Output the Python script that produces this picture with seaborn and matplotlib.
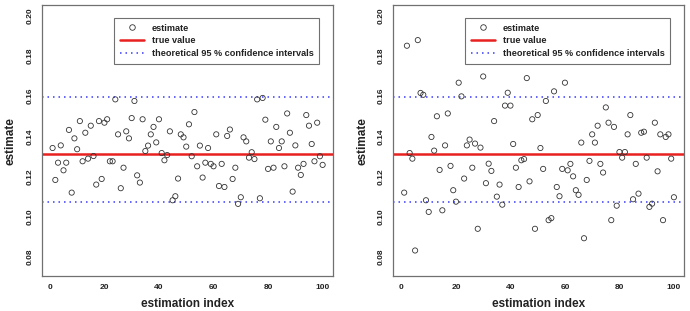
import numpy as np
import pandas as pd
import matplotlib
matplotlib.use("Agg")
import matplotlib.pyplot as plt
import seaborn as sns
from matplotlib.lines import Line2D

# Values
index = list(range(1, 101))

estimate_left = [
    0.1342, 0.1183, 0.1269, 0.1355, 0.1231, 0.1269, 0.1432, 0.1120, 0.1390, 0.1336,
    0.1476, 0.1276, 0.1418, 0.1289, 0.1453, 0.1302, 0.1160, 0.1476, 0.1188, 0.1468,
    0.1485, 0.1276, 0.1276, 0.1584, 0.1410, 0.1142, 0.1244, 0.1425, 0.1390, 0.1491,
    0.1576, 0.1206, 0.1170, 0.1485, 0.1327, 0.1354, 0.1410, 0.1447, 0.1370, 0.1485,
    0.1317, 0.1281, 0.1307, 0.1425, 0.1082, 0.1102, 0.1190, 0.1410, 0.1395, 0.1349,
    0.1460, 0.1301, 0.1521, 0.1251, 0.1354, 0.1195, 0.1269, 0.1342, 0.1263, 0.1251,
    0.1410, 0.1153, 0.1263, 0.1148, 0.1402, 0.1434, 0.1188, 0.1244, 0.1064, 0.1097,
    0.1395, 0.1375, 0.1294, 0.1321, 0.1287, 0.1584, 0.1092, 0.1591, 0.1483, 0.1238,
    0.1375, 0.1244, 0.1447, 0.1342, 0.1375, 0.1251, 0.1514, 0.1418, 0.1125, 0.1355,
    0.1244, 0.1208, 0.1263, 0.1506, 0.1453, 0.1362, 0.1276, 0.1468, 0.1301, 0.1258,
]

estimate_right = [
    0.1120, 0.1851, 0.1317, 0.1289, 0.0832, 0.1879, 0.1616, 0.1607, 0.1082, 0.1024,
    0.1397, 0.1329, 0.1500, 0.1233, 0.1032, 0.1355, 0.1514, 0.1253, 0.1132, 0.1075,
    0.1667, 0.1599, 0.1190, 0.1355, 0.1384, 0.1244, 0.1364, 0.0940, 0.1344, 0.1698,
    0.1167, 0.1264, 0.1228, 0.1476, 0.1100, 0.1160, 0.1060, 0.1553, 0.1617, 0.1553,
    0.1362, 0.1244, 0.1148, 0.1281, 0.1287, 0.1690, 0.1176, 0.1485, 0.0940, 0.1506,
    0.1342, 0.1238, 0.1576, 0.0983, 0.0993, 0.1624, 0.1148, 0.1102, 0.1238, 0.1667,
    0.1231, 0.1263, 0.1201, 0.1132, 0.1109, 0.1369, 0.0893, 0.1183, 0.1278, 0.1410,
    0.1369, 0.1453, 0.1263, 0.1220, 0.1544, 0.1468, 0.0983, 0.1447, 0.1055, 0.1322,
    0.1294, 0.1322, 0.1410, 0.1506, 0.1087, 0.1263, 0.1115, 0.1418, 0.1423, 0.1294,
    0.1049, 0.1065, 0.1468, 0.1226, 0.1410, 0.0983, 0.1397, 0.1410, 0.1289, 0.1097,
]

true_value = 0.1311
ci_low = 0.1075
ci_high = 0.1597

x_ticks = [0, 20, 40, 60, 80, 100]
y_ticks = [0.08, 0.10, 0.12, 0.14, 0.16, 0.18, 0.20]

sns.set_style("white")
plt.rcParams["font.family"] = ["Liberation Sans", "DejaVu Sans"]
plt.rcParams["font.weight"] = "bold"

FRAME = "#707070"
TEXT = "#222222"
RED = "#e8201f"
BLUE = "#3a3aff"
DOTS = (0, (1, 2.6))


def draw_panel(ax, values):
    df = pd.DataFrame({"index": index, "estimate": values})
    sns.scatterplot(
        data=df, x="index", y="estimate", ax=ax,
        marker="o", s=14, facecolor="none", edgecolor="#333333", linewidth=0.6,
        zorder=3,
    )
    ax.axhline(true_value, color=RED, lw=1.8, zorder=2)
    ax.axhline(ci_high, color=BLUE, lw=1.1, ls=DOTS, zorder=2)
    ax.axhline(ci_low, color=BLUE, lw=1.1, ls=DOTS, zorder=2)

    ax.set_xlim(-3.0, 103.8)
    ax.set_ylim(0.0705, 0.2053)
    ax.set_xticks(x_ticks)
    ax.set_yticks(y_ticks)
    ax.set_xticklabels([str(t) for t in x_ticks])
    ax.set_yticklabels([f"{t:.2f}" for t in y_ticks], rotation=90, va="center")
    ax.tick_params(axis="both", length=4, width=0.8, color=FRAME,
                   labelsize=6, labelcolor=TEXT, pad=2)
    for sp in ax.spines.values():
        sp.set_color(FRAME)
        sp.set_linewidth(0.9)

    ax.set_xlabel("estimation index", fontsize=8.5, fontweight="bold",
                  color=TEXT, labelpad=5)
    ax.set_ylabel("estimate", fontsize=8.5, fontweight="bold",
                  color=TEXT, labelpad=7)

    handles = [
        Line2D([], [], marker="o", ls="none", mfc="none", mec="#333333",
               ms=4, mew=0.6),
        Line2D([], [], color=RED, lw=1.8),
        Line2D([], [], color=BLUE, lw=1.1, ls=DOTS),
    ]
    labels = ["estimate", "true value", "theoretical 95 % confidence intervals"]
    leg = ax.legend(handles, labels, loc="upper right",
                    bbox_to_anchor=(0.952, 0.952), fontsize=6.6,
                    frameon=True, fancybox=False, framealpha=1,
                    edgecolor=FRAME, borderpad=0.6, labelspacing=0.42,
                    handlelength=2.6, handletextpad=0.9, borderaxespad=0)
    leg.get_frame().set_linewidth(0.8)
    for t in leg.get_texts():
        t.set_color(TEXT)
        t.set_fontweight("bold")


fig = plt.figure(figsize=(6.9, 3.11), dpi=100)
ax1 = fig.add_axes([0.0604, 0.1125, 0.4222, 0.871])
ax2 = fig.add_axes([0.570, 0.1125, 0.4217, 0.871])

draw_panel(ax1, estimate_left)
draw_panel(ax2, estimate_right)

fig.savefig("out.png", dpi=100)
